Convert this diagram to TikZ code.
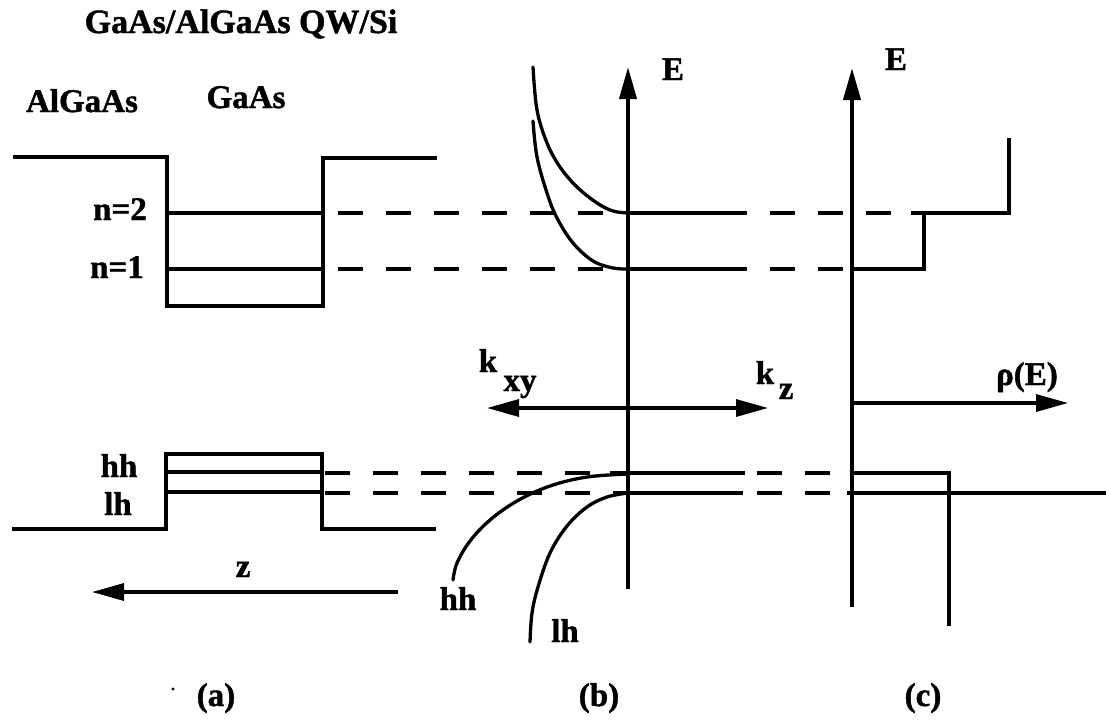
\documentclass[tikz,border=0pt]{standalone}
\usepackage{fontspec}
\setmainfont{Liberation Serif}[BoldFeatures={FakeBold=1.3}]
\usetikzlibrary{arrows.meta}
\begin{document}
\begin{tikzpicture}[x=1pt,y=-1pt,
  ln/.style={line width=3.3pt},
  ax/.style={line width=4pt},
  dsh/.style={line width=3.6pt,dash pattern=on 25pt off 23pt},
  tip/.style={-{Triangle[length=32pt,width=17pt]}},
  lab/.style={font=\fontsize{33}{36}\selectfont\bfseries,inner sep=0pt,anchor=base},
  ttl/.style={font=\fontsize{34}{38}\selectfont\bfseries,inner sep=0pt,anchor=base}]
\useasboundingbox[fill=white] (0,0) rectangle (1106,721);

% ---------- texts ----------
\node[ttl] (title) at (241,33) {GaAs/AlGaAs QW/Si};
\node[lab] (algaas) at (82,112) {AlGaAs};
\node[lab] (gaas) at (246,108) {GaAs};
\node[lab] (n2) at (120,220) {n=2};
\node[lab] (n1) at (117,278) {n=1};
\node[lab] (hha) at (119,477) {hh};
\node[lab] (lha) at (118,515) {lh};
\node[lab] (zlab) at (243,577) {z};
\node[lab] (Eb) at (673,80) {E};
\node[lab] (Ec) at (896,70) {E};
\node[lab] (k1) at (488,372) {k};
\node[lab] (xy) at (520,391) {xy};
\node[lab] (k2) at (765,384) {k};
\node[lab] (zs) at (786,399) {z};
\node[lab] (rho) at (1027,385) {ρ(E)};
\node[lab] (hhb) at (458,610) {hh};
\node[lab] (lhb) at (565,642) {lh};
\node[lab] (pa) at (216,706) {(a)};
\node[lab] (pb) at (599,706) {(b)};
\node[lab] (pc) at (923,706) {(c)};
\fill (173,689) circle (1.6pt);

% ---------- panel (a): conduction band ----------
\draw[ln,line join=miter] (13,157) -- (167,157) -- (167,306) -- (323,306) -- (323,158) -- (437,158);
\draw[ln] (167,213) -- (323,213);
\draw[ln] (167,269) -- (323,269);
% valence band
\draw[ln,line join=miter] (12,529) -- (166,529) -- (166,454) -- (322,454) -- (322,529) -- (436,529);
\draw[ln] (166,472) -- (322,472);
\draw[ln] (166,492) -- (322,492);

% ---------- dashed level lines ----------
\draw[dsh] (338,213) -- (911,213);
\draw[dsh] (338,269) -- (852,269);
\draw[dsh] (325,473) -- (840,473);
\draw[dsh] (325,493) -- (835,493);

% ---------- panel (b) ----------
\coordinate (bbot) at (628,589);
\coordinate (btop) at (628,67);
\draw[ax,tip] (bbot) -- (btop);
\coordinate (kl) at (487,408);
\coordinate (kr) at (768,408);
\draw[ln,{Triangle[length=32pt,width=17pt]}-{Triangle[length=32pt,width=17pt]}] (kl) -- (kr);
\draw[ln] (628,213) -- (747,213);
\draw[ln] (628,269) -- (747,269);
\draw[ln] (610,473) -- (745,473);
\draw[ln] (628,493) -- (743,493);
% conduction subbands
\draw[ln,line cap=round] plot[smooth,tension=0.6] coordinates {(533,67) (537,110) (547,143) (560,167) (577,187) (597,203) (613,211) (628,213)};
\draw[ln,line cap=round] plot[smooth,tension=0.6] coordinates {(533,121) (537,157) (547,193) (557,218) (573,243) (593,261) (613,268) (628,269)};
% valence subbands
\draw[ln,line cap=round] plot[smooth,tension=0.6] coordinates {(628,474) (587,477) (550,486) (517,501) (490,520) (470,541) (457,563) (453,580)};
\draw[ln,line cap=round] plot[smooth,tension=0.6] coordinates {(628,493) (607,497) (587,507) (567,526) (550,553) (538,587) (532,613) (530,642)};

% ---------- panel (c) ----------
\coordinate (cbot) at (852,607);
\coordinate (ctop) at (852,68);
\draw[ax,tip] (cbot) -- (ctop);
\coordinate (rl) at (852,403);
\coordinate (rr) at (1068,403);
\draw[ln,tip] (rl) -- (rr);
\draw[ln,line join=miter] (852,269) -- (924,269) -- (924,213);
\draw[ln,line join=miter] (911,213) -- (1009,213) -- (1009,138);
\draw[ln,line join=miter] (852,473) -- (949,473) -- (949,626);
\draw[ln] (847,493) -- (1106,493);

% z arrow
\coordinate (zr) at (398,592);
\coordinate (zl) at (92,592);
\draw[ln,tip] (zr) -- (zl);
\end{tikzpicture}
\end{document}
